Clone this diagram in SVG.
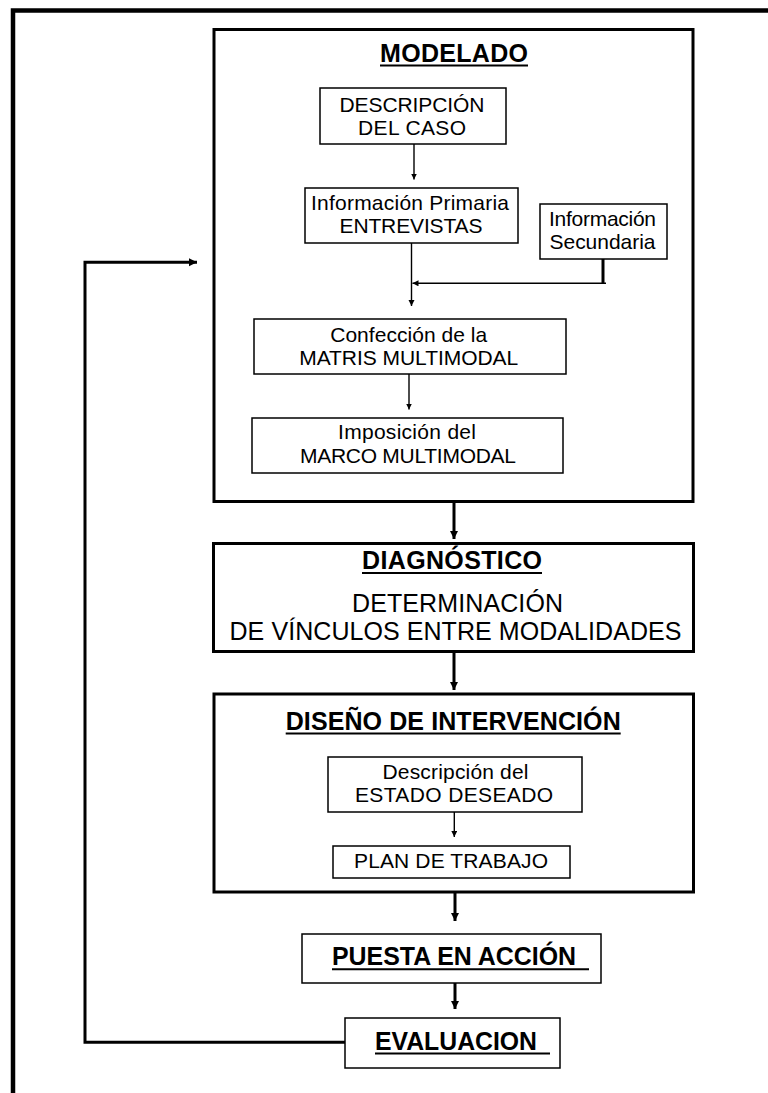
<svg xmlns="http://www.w3.org/2000/svg" width="768" height="1093" viewBox="0 0 768 1093">
<style>
.t{font-family:"Liberation Sans",Arial,sans-serif;font-size:21px;fill:#000;text-anchor:middle}
.b{font-family:"Liberation Sans",Arial,sans-serif;font-size:25px;font-weight:bold;fill:#000;text-anchor:middle}
.m{font-family:"Liberation Sans",Arial,sans-serif;font-size:25px;fill:#000;text-anchor:middle}
.big{fill:#fff;stroke:#000;stroke-width:3}
.sm{fill:#fff;stroke:#000;stroke-width:1.5}
.ul{stroke:#000;stroke-width:2}
.thin{fill:none;stroke:#000;stroke-width:1.4}
.thick{fill:none;stroke:#000;stroke-width:3}
</style>
<defs>
<marker id="ahs" markerUnits="userSpaceOnUse" markerWidth="8" markerHeight="8" refX="6" refY="3" orient="auto"><path d="M0,0 L6,3 L0,6z" fill="#000"/></marker>
<marker id="ahb" markerUnits="userSpaceOnUse" markerWidth="10" markerHeight="10" refX="8" refY="4" orient="auto"><path d="M0,0 L8,4 L0,8z" fill="#000"/></marker>
</defs>
<rect width="768" height="1093" fill="#fff"/>
<path d="M13,1100 V10.5 H780" fill="none" stroke="#000" stroke-width="4.5"/>

<g id="modelado">
<rect class="big" x="214" y="29.5" width="479" height="472"/>
<text class="b" x="454" y="62" textLength="148">MODELADO</text>
<line class="ul" x1="380" y1="65.5" x2="528" y2="65.5"/>
</g>
<g id="descripcion-caso">
<rect class="sm" x="320" y="88" width="186" height="56"/>
<text class="t" x="412" y="111.7" textLength="145">DESCRIPCIÓN</text>
<text class="t" x="412" y="135" textLength="108">DEL CASO</text>
</g>
<g id="info-primaria">
<rect class="sm" x="305" y="188" width="213" height="55"/>
<text class="t" x="410" y="210" textLength="198">Información Primaria</text>
<text class="t" x="411" y="233.3" textLength="143">ENTREVISTAS</text>
</g>
<g id="info-secundaria">
<rect class="sm" x="540" y="204" width="127" height="55"/>
<text class="t" x="602.5" y="225.7" textLength="107">Información</text>
<text class="t" x="602.5" y="249.3" textLength="106">Secundaria</text>
</g>
<g id="matris">
<rect class="sm" x="254" y="319" width="312" height="55"/>
<text class="t" x="408.7" y="341.7" textLength="157">Confección de la</text>
<text class="t" x="408.7" y="365" textLength="219">MATRIS MULTIMODAL</text>
</g>
<g id="marco">
<rect class="sm" x="252" y="418" width="311" height="55"/>
<text class="t" x="407" y="439.3" textLength="138">Imposición del</text>
<text class="t" x="408" y="463.3" textLength="216">MARCO MULTIMODAL</text>
</g>
<g id="diagnostico">
<rect class="big" x="213.5" y="543.5" width="480" height="108"/>
<text class="b" x="452" y="569.3" textLength="180">DIAGNÓSTICO</text>
<line class="ul" x1="362" y1="573" x2="542" y2="573"/>
<text class="m" x="457.5" y="611.7" textLength="211">DETERMINACIÓN</text>
<text class="m" x="455.5" y="640" textLength="452">DE VÍNCULOS ENTRE MODALIDADES</text>
</g>
<g id="diseno">
<rect class="big" x="214" y="694" width="479.5" height="198"/>
<text class="b" x="453.2" y="730" textLength="335">DISEÑO DE INTERVENCIÓN</text>
<line class="ul" x1="285.7" y1="733.5" x2="620.7" y2="733.5"/>
</g>
<g id="estado-deseado">
<rect class="sm" x="328" y="757" width="254" height="55"/>
<text class="t" x="455.5" y="779.3" textLength="146">Descripción del</text>
<text class="t" x="454" y="801.7" textLength="198">ESTADO DESEADO</text>
</g>
<g id="plan">
<rect class="sm" x="333" y="846" width="237" height="32"/>
<text class="t" x="451" y="868.3" textLength="194">PLAN DE TRABAJO</text>
</g>
<g id="puesta">
<rect class="sm" x="302" y="934" width="299" height="49" stroke-width="2.5"/>
<text class="b" x="454" y="965" font-size="25" textLength="244" lengthAdjust="spacingAndGlyphs">PUESTA EN ACCIÓN</text>
<line class="ul" x1="332" y1="969.3" x2="589" y2="969.3"/>
</g>
<g id="evaluacion">
<rect class="sm" x="345" y="1018" width="215" height="50" stroke-width="2.5"/>
<text class="b" x="456" y="1050" font-size="25" textLength="162" lengthAdjust="spacingAndGlyphs">EVALUACION</text>
<line class="ul" x1="375" y1="1053.5" x2="550" y2="1053.5"/>
</g>

<g id="connectors">
<line class="thin" x1="414" y1="144" x2="414" y2="179.5" marker-end="url(#ahs)"/>
<line class="thin" x1="411.5" y1="243" x2="411.5" y2="306" marker-end="url(#ahs)"/>
<line x1="603" y1="259" x2="603" y2="283" stroke="#000" stroke-width="3"/>
<line class="thin" x1="606" y1="283.3" x2="412.5" y2="283.3" marker-end="url(#ahs)"/>
<line class="thin" x1="409" y1="374" x2="409" y2="409.5" marker-end="url(#ahs)"/>
<line class="thick" x1="454" y1="502" x2="454" y2="539" marker-end="url(#ahb)"/>
<line class="thick" x1="454" y1="652" x2="454" y2="690" marker-end="url(#ahb)"/>
<line class="thin" x1="454.3" y1="812" x2="454.3" y2="837" marker-end="url(#ahs)"/>
<line class="thick" x1="455" y1="892" x2="455" y2="921" marker-end="url(#ahb)"/>
<line class="thick" x1="455" y1="983" x2="455" y2="1009" marker-end="url(#ahb)"/>
<polyline class="thick" points="345,1042.3 85,1042.3 85,262.3 197,262.3" marker-end="url(#ahb)"/>
</g>
</svg>
